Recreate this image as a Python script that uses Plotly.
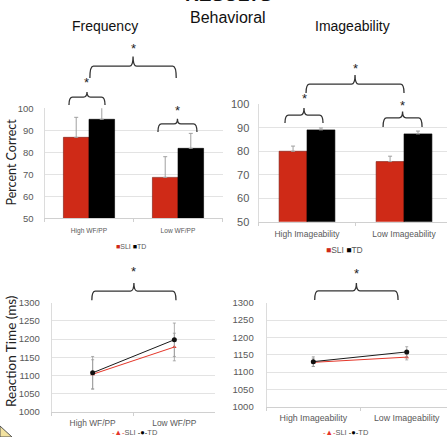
import plotly.graph_objects as go

W, H = 447, 437

# ---------------- data ----------------
freq_cats = ["High WF/PP", "Low WF/PP"]
img_cats = ["High Imageability", "Low Imageability"]

acc_freq_sli = [86.8, 68.6]
acc_freq_sli_err = [9.1, 9.4]
acc_freq_td = [95.0, 81.8]
acc_freq_td_err = [6.5, 6.8]

acc_img_sli = [80.0, 75.6]
acc_img_sli_err = [2.2, 2.3]
acc_img_td = [89.1, 87.4]
acc_img_td_err = [0.8, 1.2]

rt_freq_sli = [1103, 1178]
rt_freq_sli_err = [40, 38]
rt_freq_td = [1107, 1198]
rt_freq_td_err = [45, 46]

rt_img_sli = [1128, 1143]
rt_img_sli_err = [12, 8]
rt_img_td = [1130, 1158]
rt_img_td_err = [14, 15]

acc_ticks = [50, 60, 70, 80, 90, 100]
rt_ticks = [1000, 1050, 1100, 1150, 1200, 1250, 1300]

# significance brackets (category units, value units): x0, x1, y_end, y_bar, y_tick, y_star
brk_acc_freq = [(0.01, 0.98, 113.8, 119.2, 123.6, 127.4),
                (-0.225, 0.18, 101.5, 105.1, 107.4, 111.5),
                (0.775, 1.213, 89.2, 92.9, 95.3, 99.0)]
brk_acc_img = [(-0.01, 1.0, 104.8, 108.6, 112.5, 115.4),
               (-0.227, 0.165, 92.0, 95.4, 98.4, 102.3),
               (0.784, 1.186, 90.3, 94.2, 96.9, 99.7)]
brk_rt_freq = [(-0.01, 1.02, 1307, 1332, 1354, 1387)]
brk_rt_img = [(0.015, 0.907, 1308, 1334, 1357, 1383)]

# ---------------- layout geometry (pixels) ----------------
P = {
    "a": dict(l=44.5, r=222.5, t=108.3, b=218.3, xr=[-0.5, 1.5], yr=[50, 100]),
    "b": dict(l=258.5, r=447, t=104.3, b=221.7, xr=[-0.5, 1.443], yr=[50, 100]),
    "c": dict(l=51.8, r=215.2, t=302.7, b=411.7, xr=[-0.5, 1.5], yr=[1000, 1300]),
    "d": dict(l=266.6, r=447, t=302.7, b=406.7, xr=[-0.5, 1.431], yr=[1000, 1300]),
}


def px(p, cx, vy):
    g = P[p]
    x = g["l"] + (cx - g["xr"][0]) / (g["xr"][1] - g["xr"][0]) * (g["r"] - g["l"])
    y = g["b"] - (vy - g["yr"][0]) / (g["yr"][1] - g["yr"][0]) * (g["b"] - g["t"])
    return x, y


def fx(x):
    return x / W


def fy(y):
    return 1 - y / H


RED = "#cf2a17"
LRED = "#e5372a"
BLK = "#000000"
GRID = "#e3e3e3"
TXT = "#595959"
FONT = "Liberation Sans, Arial, sans-serif"

fig = go.Figure()

# bars
for xa, ya, cats, sli, slie, td, tde in [
    ("x", "y", freq_cats, acc_freq_sli, acc_freq_sli_err, acc_freq_td, acc_freq_td_err),
    ("x2", "y2", img_cats, acc_img_sli, acc_img_sli_err, acc_img_td, acc_img_td_err),
]:
    fig.add_trace(go.Bar(x=cats, y=sli, name="SLI", marker=dict(color=RED, line=dict(color="#7a1a10", width=0.6)),
                         error_y=dict(type="data", array=slie, arrayminus=[0, 0], symmetric=False,
                                      color="#a0a0a0", thickness=1, width=2),
                         base=0, xaxis=xa, yaxis=ya, showlegend=False, cliponaxis=False))
    fig.add_trace(go.Bar(x=cats, y=td, name="TD", marker=dict(color=BLK, line=dict(color="#000", width=0.6)),
                         error_y=dict(type="data", array=tde, arrayminus=[0, 0], symmetric=False,
                                      color="#a0a0a0", thickness=1, width=2),
                         base=0, xaxis=xa, yaxis=ya, showlegend=False, cliponaxis=False))

# lines
for xa, ya, cats, sli, slie, td, tde in [
    ("x3", "y3", freq_cats, rt_freq_sli, rt_freq_sli_err, rt_freq_td, rt_freq_td_err),
    ("x4", "y4", img_cats, rt_img_sli, rt_img_sli_err, rt_img_td, rt_img_td_err),
]:
    fig.add_trace(go.Scatter(x=cats, y=sli, name="SLI", mode="lines+markers",
                             line=dict(color=LRED, width=1), marker=dict(symbol="triangle-up", size=4, color=LRED),
                             error_y=dict(type="data", array=slie, color="#9a9a9a", thickness=0.8, width=1.5),
                             xaxis=xa, yaxis=ya, showlegend=False, cliponaxis=False))
    fig.add_trace(go.Scatter(x=cats, y=td, name="TD", mode="lines+markers",
                             line=dict(color="#1a1a1a", width=1), marker=dict(symbol="circle", size=5, color="#111"),
                             error_y=dict(type="data", array=tde, color="#9a9a9a", thickness=0.8, width=1.5),
                             xaxis=xa, yaxis=ya, showlegend=False, cliponaxis=False))

layout = dict(width=W, height=H, margin=dict(l=0, r=0, t=0, b=0, autoexpand=False), autosize=False,
              paper_bgcolor="white", plot_bgcolor="white", barmode="group", bargap=0.425, bargroupgap=0,
              font=dict(family=FONT, color=TXT), showlegend=False)

axis_ids = {"a": ("xaxis", "yaxis", "y", "x"), "b": ("xaxis2", "yaxis2", "y2", "x2"),
            "c": ("xaxis3", "yaxis3", "y3", "x3"), "d": ("xaxis4", "yaxis4", "y4", "x4")}
ytick_size = {"a": 9.5, "b": 11, "c": 9.5, "d": 9.5}
xtick_size = {"a": 6.6, "b": 8.5, "c": 8.4, "d": 8.8}
ystand = {"a": 8, "b": 6, "c": 9, "d": 10}
xstand = {"a": 6, "b": 4, "c": 3, "d": 3}
for k, (xn, yn, yanc, xanc) in axis_ids.items():
    g = P[k]
    ticks = acc_ticks if k in "ab" else rt_ticks
    layout[xn] = dict(domain=[fx(g["l"]), fx(g["r"])], anchor=yanc, type="category", range=g["xr"],
                      showgrid=False, showline=True, linecolor="#d0d0d0", linewidth=1, automargin=False,
                      ticks="outside", tickson="boundaries", ticklen=3, tickcolor="#d0d0d0",
                      tickfont=dict(size=xtick_size[k], color=TXT), ticklabelstandoff=xstand[k], zeroline=False)
    layout[yn] = dict(domain=[fy(g["b"]), fy(g["t"])], anchor=xanc, range=g["yr"], tickvals=ticks,
                      showgrid=True, gridcolor=GRID, gridwidth=1, showline=True, linecolor="#dcdcdc",
                      automargin=False,
                      ticks="", tickfont=dict(size=ytick_size[k], color=TXT), ticklabelstandoff=ystand[k],
                      zeroline=False)
fig.update_layout(**layout)

shapes = []
annotations = []


def bracket(p, b):
    x0, x1, ye, yb, yt, ys = b
    X0, YE = px(p, x0, ye)
    X1, _ = px(p, x1, ye)
    _, YB = px(p, x0, yb)
    _, YT = px(p, x0, yt)
    _, YS = px(p, x0, ys)
    XC = (X0 + X1) / 2
    r = 3.5
    path = (f"M {fx(X0)},{fy(YE)} Q {fx(X0)},{fy(YB)} {fx(X0 + r)},{fy(YB)} "
            f"L {fx(XC - r)},{fy(YB)} Q {fx(XC)},{fy(YB)} {fx(XC)},{fy(YT)} "
            f"Q {fx(XC)},{fy(YB)} {fx(XC + r)},{fy(YB)} L {fx(X1 - r)},{fy(YB)} "
            f"Q {fx(X1)},{fy(YB)} {fx(X1)},{fy(YE)}")
    shapes.append(dict(type="path", path=path, xref="paper", yref="paper",
                       line=dict(color="#333333", width=1.3)))
    annotations.append(dict(x=fx(XC), y=fy(YS), xref="paper", yref="paper", text="*", showarrow=False,
                            font=dict(size=13, color="#222", family=FONT), xanchor="center", yanchor="middle"))


for b in brk_acc_freq:
    bracket("a", b)
for b in brk_acc_img:
    bracket("b", b)
for b in brk_rt_freq:
    bracket("c", b)
for b in brk_rt_img:
    bracket("d", b)


def ann(x, y, text, size, color="#111", angle=0, family=FONT):
    annotations.append(dict(x=fx(x), y=fy(y), xref="paper", yref="paper", text=text, showarrow=False,
                            textangle=angle, xanchor="center", yanchor="middle",
                            font=dict(size=size, color=color, family=family)))


ann(228, -5, "<b>RESULTS</b>", 19)
ann(228, 18, "Behavioral", 16)
ann(105, 26, "Frequency", 14)
ann(352, 26, "Imageability", 14)
ann(11, 162.5, "Percent Correct", 12.5, color="#222", angle=-90, family="Lato, Open Sans, sans-serif")
ann(11, 352, "Reaction Time (ms)", 13.5, color="#222", angle=-90, family="Lato, Open Sans, sans-serif")

ann(131, 247, f"<span style='color:{RED}'>■</span>SLI <span style='color:#000'>■</span>TD", 7, color=TXT)
ann(344, 250, f"<span style='color:{RED}'>■</span>SLI <span style='color:#000'>■</span>TD", 8.5, color=TXT)
ann(135, 432.5, f"<span style='color:{LRED}'>-▲-</span>SLI <span style='color:#000'>-●-</span>TD", 7.5, color=TXT)
ann(346, 432.5, f"<span style='color:{LRED}'>-▲-</span>SLI <span style='color:#000'>-●-</span>TD", 7.5, color=TXT)

# decorative corner wedge of the slide
shapes.append(dict(type="path", xref="paper", yref="paper",
                   path=f"M {fx(0)},{fy(426)} L {fx(12)},{fy(437)} L {fx(0)},{fy(437)} Z",
                   fillcolor="#f2e2a0", line=dict(color="#555", width=1)))

fig.update_layout(shapes=shapes, annotations=annotations)
fig.write_html("out.html", config={"displayModeBar": False},
               post_script="document.body.style.margin='0';document.body.style.overflow='hidden';")
